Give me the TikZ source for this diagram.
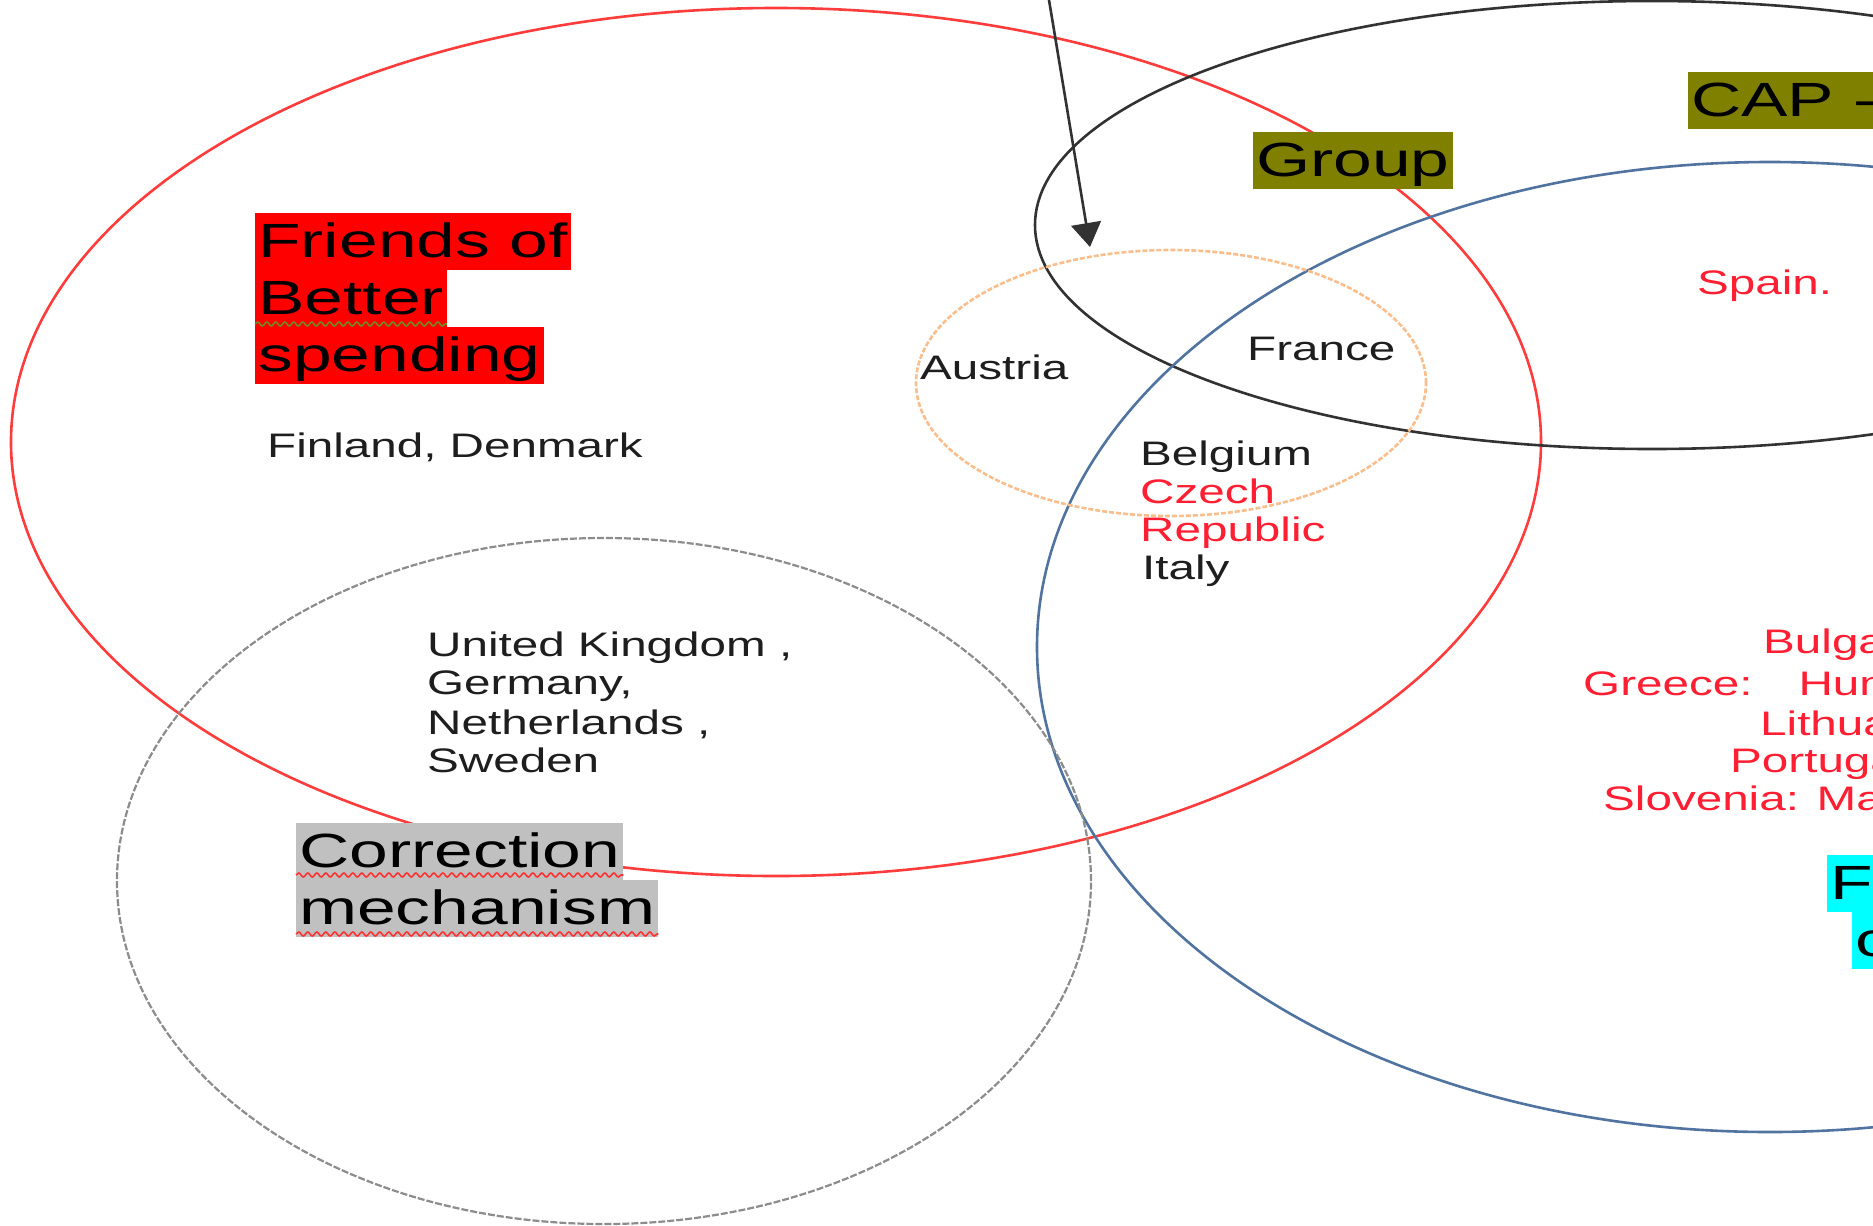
\documentclass[tikz,border=0pt]{standalone}
\usepackage{fontspec}
\setmainfont{Liberation Sans}
\newfontfamily\bigfam{Liberation Sans}[FakeStretch=1.45]
\newfontfamily\smallfam{Liberation Sans}[FakeStretch=1.4]
\usetikzlibrary{arrows.meta,decorations.pathmorphing}
\definecolor{ringred}{RGB}{255,60,60}
\definecolor{ringblack}{RGB}{50,50,50}
\definecolor{ringblue}{RGB}{80,115,160}
\definecolor{ringorange}{RGB}{250,190,140}
\definecolor{ringgray}{RGB}{140,140,140}
\definecolor{hlred}{RGB}{255,0,0}
\definecolor{hlolive}{RGB}{128,128,0}
\definecolor{hlgray}{RGB}{192,192,192}
\definecolor{hlcyan}{RGB}{0,255,255}
\definecolor{txtred}{RGB}{255,30,50}
\definecolor{txtdark}{RGB}{30,30,30}
\definecolor{squiggreen}{RGB}{110,140,30}
\definecolor{squigred}{RGB}{255,50,50}
\begin{document}
\begin{tikzpicture}[x=1bp,y=-1bp,
  ring/.style={line width=2.6bp},
  bigtxt/.style={font=\bigfam\fontsize{48bp}{57bp}\selectfont},
  hl/.style={bigtxt, text=black, inner xsep=3bp, inner ysep=0pt,
    text height=44bp, text depth=13bp, anchor=base west},
  smalltxt/.style={font=\smallfam\fontsize{34bp}{38bp}\selectfont,
    inner sep=0pt, anchor=base west, text=txtdark},
  redtxt/.style={smalltxt, text=txtred},
  squiggle/.style={decorate, decoration={snake, segment length=9bp, amplitude=2bp}, line width=1.6bp}
]
\useasboundingbox (0,0) rectangle (1873,1225);
\clip (0,0) rectangle (1873,1225);
\fill[white] (0,0) rectangle (1873,1225);

% rings
\draw[ring, ringred] (776,442) ellipse [x radius=765bp, y radius=434bp];
\draw[ring, ringblack] (1652,225) ellipse [x radius=617bp, y radius=224bp];
\draw[ring, ringblue] (1770,647) ellipse [x radius=733bp, y radius=485bp];
\draw[ring, ringorange, dash pattern=on 5bp off 2bp] (1171,383) ellipse [x radius=255bp, y radius=133bp];
\draw[line width=2.2bp, ringgray, dash pattern=on 7bp off 2bp] (604,881) ellipse [x radius=487bp, y radius=343bp];

% arrow
\coordinate (arrS) at (1048,-6);
\coordinate (arrE) at (1090,247);
\draw[line width=2.6bp, ringblack, -{Triangle[width=30bp,length=24bp]}] (arrS) -- (arrE);

% highlighted titles
\node[hl, fill=hlred] (fr1) at (255,257) {Friends of};
\node[hl, fill=hlred] (fr2) at (255,314) {Better};
\node[hl, fill=hlred] (fr3) at (255,371) {spending};
\draw[squiggle, squiggreen] ([yshift=-10bp]fr2.base west) -- ([yshift=-10bp]fr2.base east);

\node[hl, fill=hlolive] (grp) at (1253,176) {Group};
\node[hl, fill=hlolive] (cap) at (1688,116) {CAP -};

\node[hl, fill=hlgray] (cor1) at (296,867) {Correction};
\node[hl, fill=hlgray] (cor2) at (296,924) {mechanism};
\draw[squiggle, squigred] ([yshift=-8bp]cor1.base west) -- ([yshift=-8bp]cor1.base east);
\draw[squiggle, squigred] ([yshift=-10bp]cor2.base west) -- ([yshift=-10bp]cor2.base east);

\node[hl, fill=hlcyan] (coh1) at (1827,899) {Friends of};
\node[hl, fill=hlcyan] (coh2) at (1852,956) {cohesion};

% country texts
\node[smalltxt] (fin) at (267,457) {Finland, Denmark};
\node[smalltxt] (aus) at (920,379) {Austria};
\node[smalltxt] (fra) at (1247,360) {France};
\node[smalltxt] (bel) at (1140,465) {Belgium};
\node[redtxt] (cze) at (1140,503) {Czech};
\node[redtxt] (rep) at (1140,541) {Republic};
\node[smalltxt] (ita) at (1142,579) {Italy};
\node[redtxt] (spa) at (1697,294) {Spain.};

\node[smalltxt] (uk) at (427,656) {United Kingdom ,};
\node[smalltxt] (ger) at (427,694) {Germany,};
\node[smalltxt] (net) at (427,734) {Netherlands ,};
\node[smalltxt] (swe) at (427,772) {Sweden};

\node[redtxt] (bul) at (1763,653) {Bulgaria,};
\node[redtxt] (gre) at (1583,695) {Greece:\hspace*{46bp}Hungary,};
\node[redtxt] (lit) at (1760,735) {Lithuania,};
\node[redtxt] (por) at (1730,772) {Portugal,};
\node[redtxt] (slo) at (1603,810) {Slovenia: Malta};
\end{tikzpicture}
\end{document}
